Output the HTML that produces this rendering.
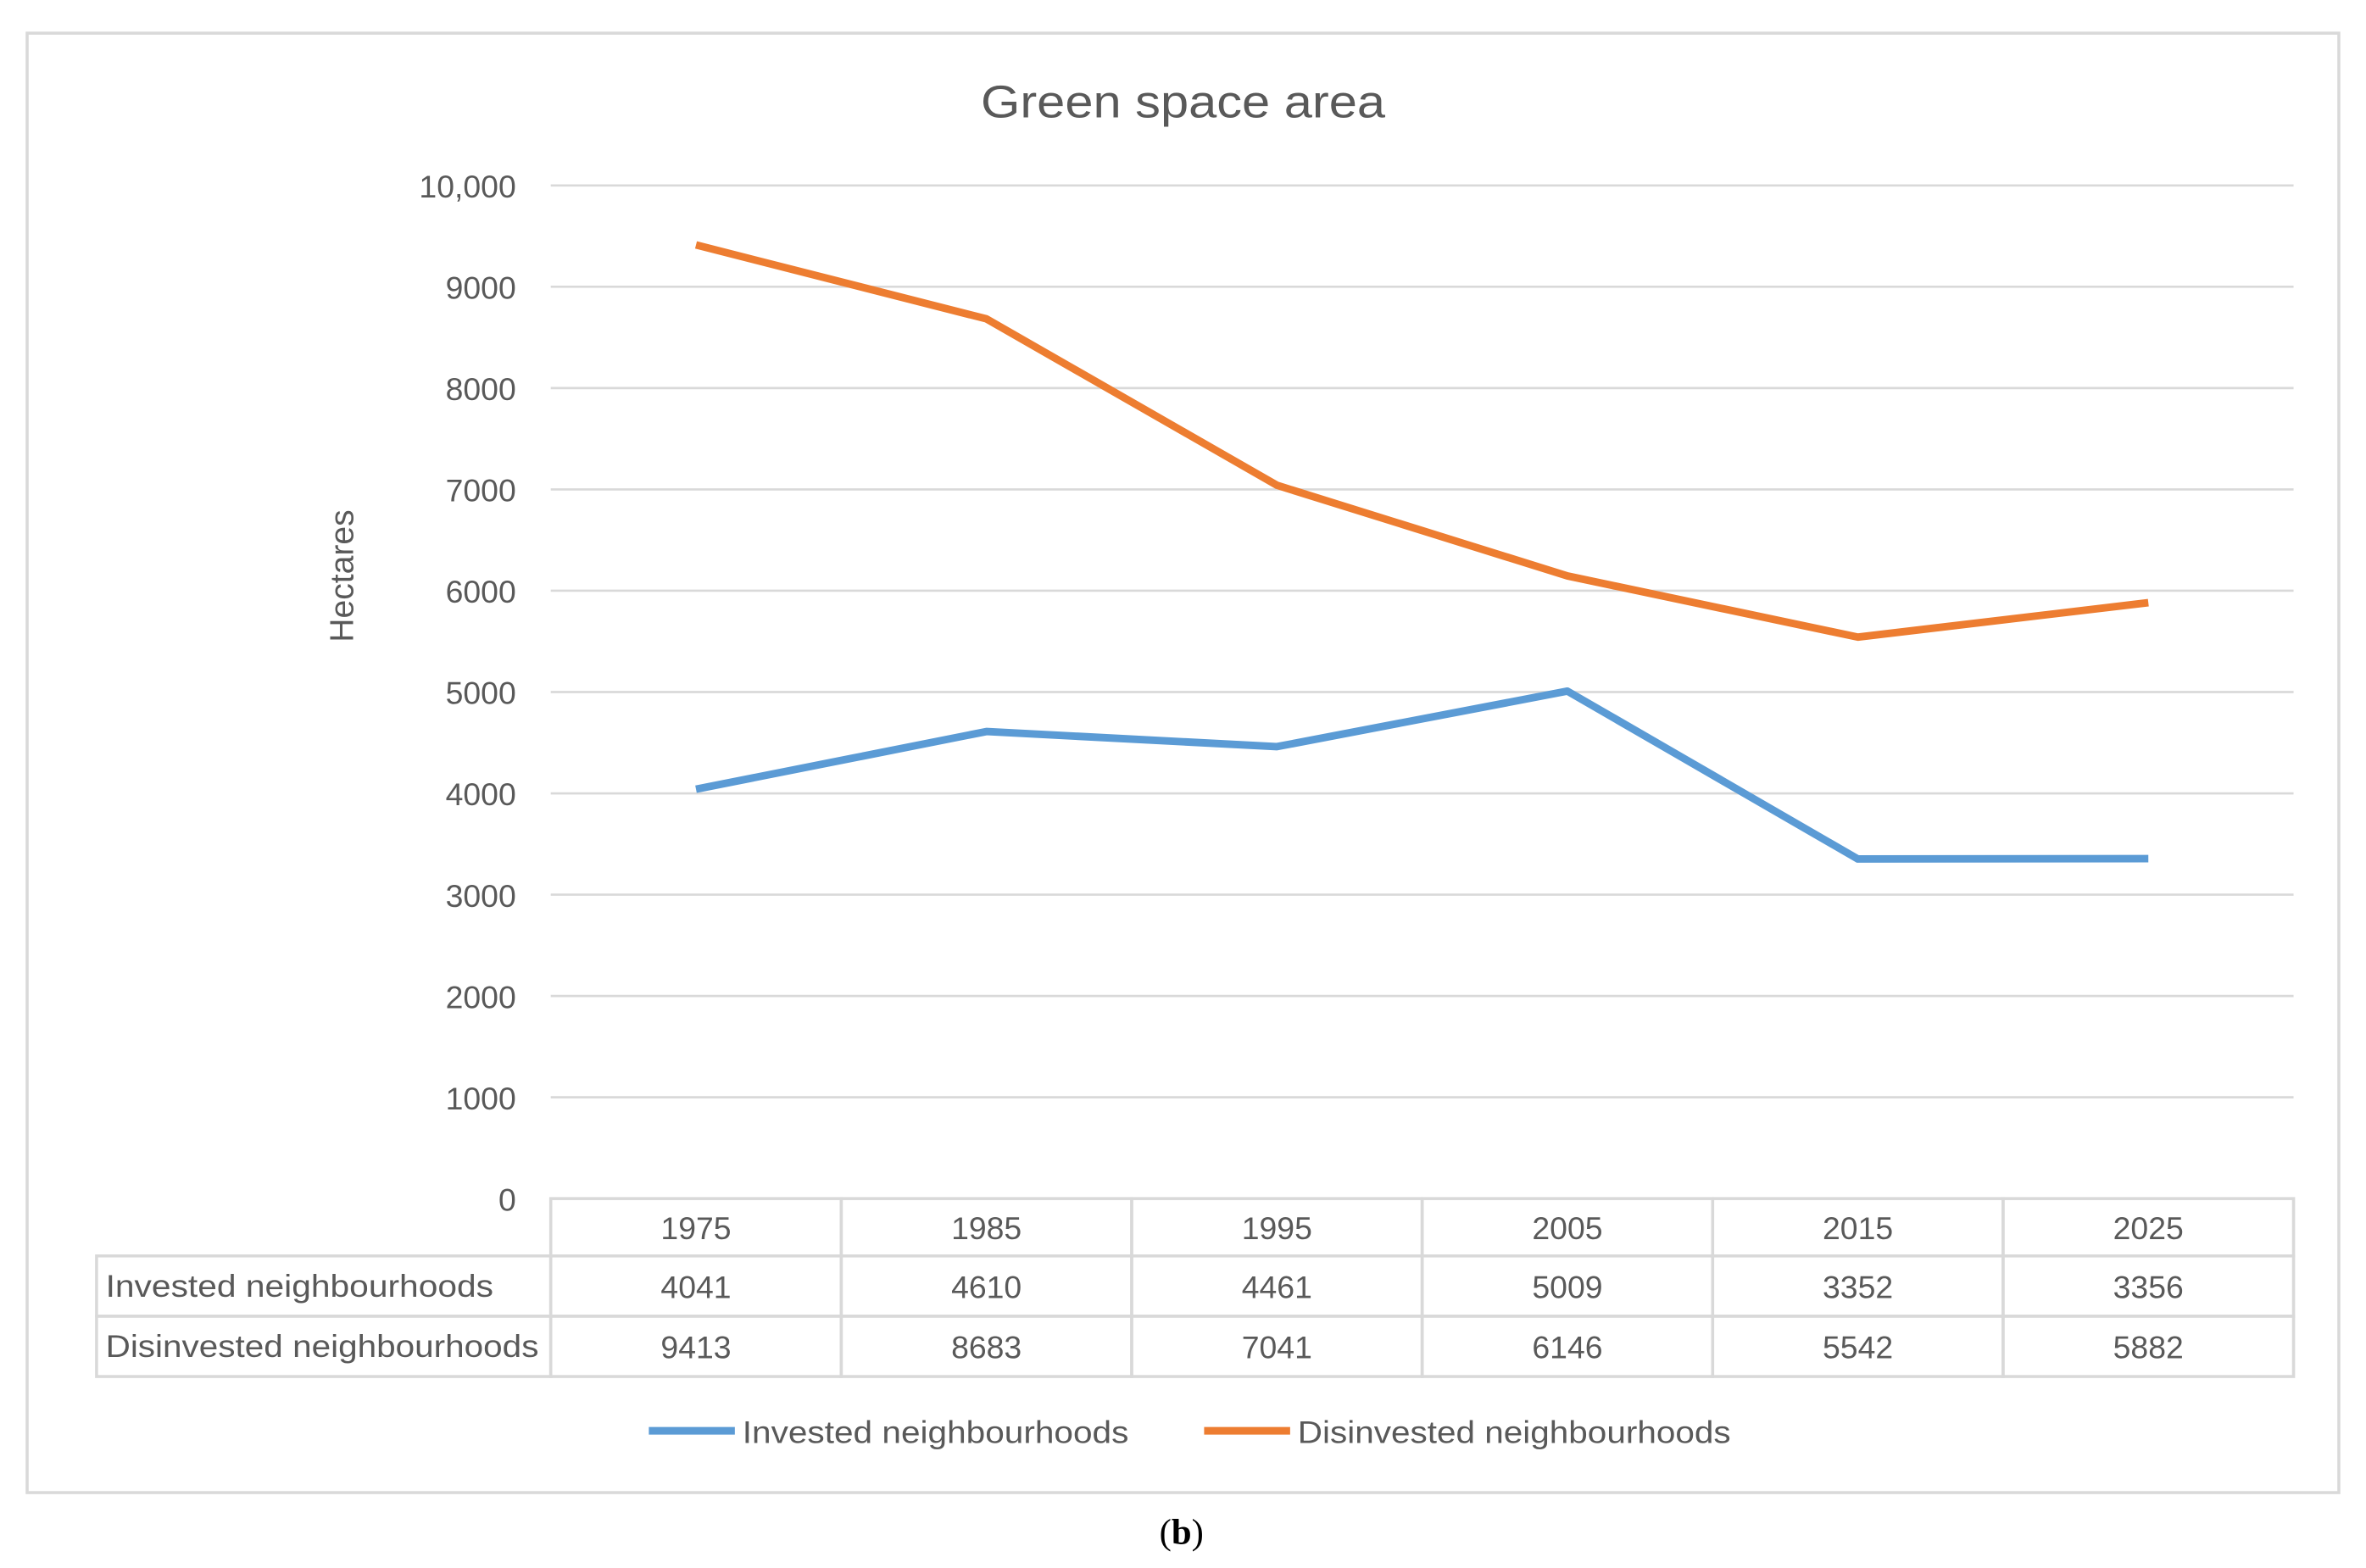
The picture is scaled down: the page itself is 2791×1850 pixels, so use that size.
<!DOCTYPE html>
<html><head><meta charset="utf-8"><style>
html,body{margin:0;padding:0;background:#fff;}
svg{display:block;}
text{font-family:"Liberation Sans",sans-serif;fill:#595959;}
</style></head><body>
<svg width="2791" height="1850" viewBox="0 0 1568 1040" preserveAspectRatio="none" xmlns="http://www.w3.org/2000/svg">
<rect x="18" y="22" width="1532" height="968" fill="#fff" stroke="#d9d9d9" stroke-width="2"/>
<text x="650" y="78" font-size="30" textLength="268" lengthAdjust="spacingAndGlyphs">Green space area</text>
<text transform="translate(234,382) rotate(-90)" text-anchor="middle" font-size="22">Hectares</text>
<g id="grid"></g><g id="ylabels"></g><g id="table"></g><g id="lines"></g>
<g>
<line x1="430" y1="949" x2="487" y2="949" stroke="#5B9BD5" stroke-width="5"/>
<text x="492" y="957" font-size="21" textLength="256" lengthAdjust="spacingAndGlyphs">Invested neighbourhoods</text>
<line x1="798" y1="949" x2="855" y2="949" stroke="#ED7D31" stroke-width="5"/>
<text x="860" y="957" font-size="21" textLength="287" lengthAdjust="spacingAndGlyphs">Disinvested neighbourhoods</text>
</g>
<text x="783" y="1024" text-anchor="middle" font-size="24" style="font-family:'Liberation Serif',serif;fill:#000">(<tspan font-weight="bold">b</tspan>)</text>
</svg>
<script>
const categories=["1975","1985","1995","2005","2015","2025"];
const invested=[4041,4610,4461,5009,3352,3356];
const disinvested=[9413,8683,7041,6146,5542,5882];
const yTicks=[0,1000,2000,3000,4000,5000,6000,7000,8000,9000,10000];
const yTickLabels=["0","1000","2000","3000","4000","5000","6000","7000","8000","9000","10,000"];
const NS="http://www.w3.org/2000/svg";
const X0=365,X1=1520,Y0=795,Y1=123,YMAX=10000;
const cw=(X1-X0)/categories.length;
function xs(i){return X0+cw*(i+0.5);}
function ys(v){return Y0-(v/YMAX)*(Y0-Y1);}
function mk(tag,attrs,parent,txt){const e=document.createElementNS(NS,tag);for(const k in attrs)e.setAttribute(k,attrs[k]);if(txt!==undefined)e.textContent=txt;parent.appendChild(e);return e;}
const grid=document.getElementById('grid'),yl=document.getElementById('ylabels');
yTicks.forEach((t,i)=>{
 const l=mk('line',{x1:X0,x2:X1,y1:ys(t),y2:ys(t),stroke:'#d9d9d9','stroke-width':1.5},grid);
 
 
 const tx=mk('text',{x:342,y:ys(t)+8,'text-anchor':'end','font-size':21},yl,yTickLabels[i]);
 
 
});
const tb=document.getElementById('table');
const st={stroke:'#d9d9d9','stroke-width':2,fill:'none'};
const rows=[[795,833],[833,873],[873,913]];
categories.forEach((c,i)=>{
 const r=mk('rect',Object.assign({x:X0+cw*i,y:795,width:cw,height:38},st),tb);
 
 
 const t=mk('text',{x:xs(i),y:822,'text-anchor':'middle','font-size':21},tb,c);
 
 
});
[[invested,"Invested neighbourhoods",1,257],[disinvested,"Disinvested neighbourhoods",2,287]].forEach(([arr,name,ri,tl])=>{
 const [ya,yb]=rows[ri];
 const lr=mk('rect',Object.assign({x:64,y:ya,width:X0-64,height:yb-ya},st),tb);
 
 
 const lt=mk('text',{x:70,y:ya+27,'font-size':21,textLength:tl,lengthAdjust:'spacingAndGlyphs'},tb,name);
 
 
 arr.forEach((v,i)=>{
  const r=mk('rect',Object.assign({x:X0+cw*i,y:ya,width:cw,height:yb-ya},st),tb);
  
  
  const t=mk('text',{x:xs(i),y:ya+28,'text-anchor':'middle','font-size':21},tb,String(v));
  
  
 });
});
const lg=document.getElementById('lines');
[[invested,'#5B9BD5','invested-line'],[disinvested,'#ED7D31','disinvested-line']].forEach(([arr,col,nm])=>{
 const p=mk('polyline',{points:arr.map((v,i)=>xs(i)+','+ys(v)).join(' '),fill:'none',stroke:col,'stroke-width':5,'stroke-linejoin':'round'},lg);
 
 
});
</script>
</body></html>
